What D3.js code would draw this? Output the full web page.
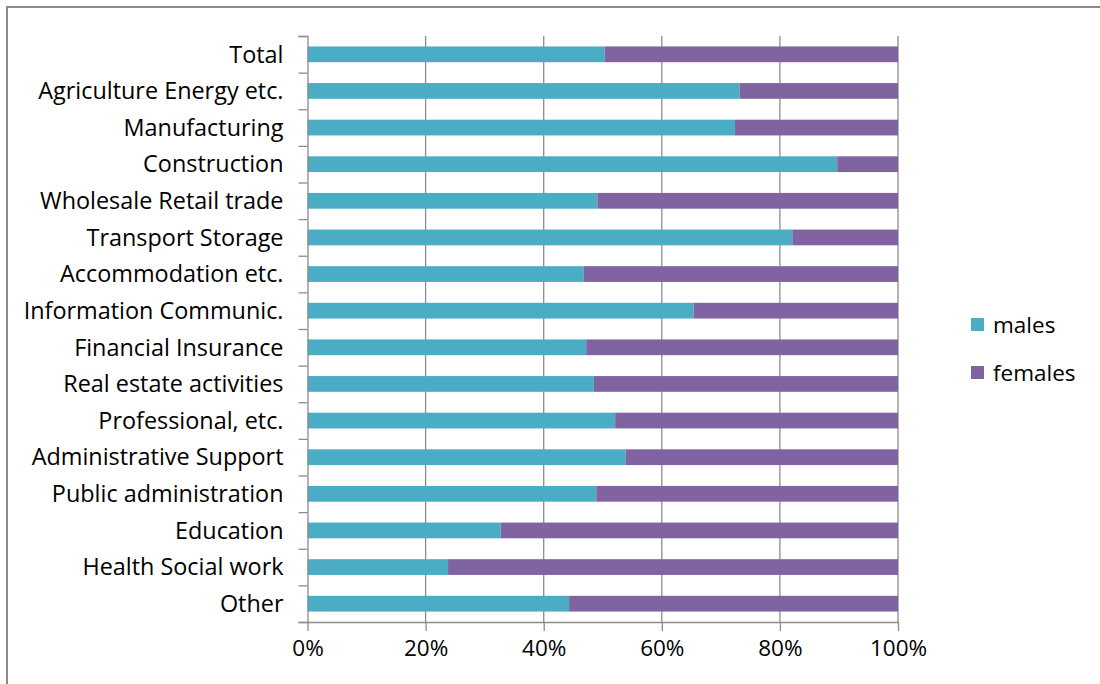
<!DOCTYPE html>
<html>
<head>
<meta charset="utf-8">
<script src="https://cdn.jsdelivr.net/npm/d3@7"></script>
<style>
  body { margin: 0; background: #fff; }
  text { font-family: "Open Sans", sans-serif; fill: #000; font-variant-ligatures: none; }
</style>
</head>
<body>
<div id="chart"></div>
<script>
// categories, top to bottom
const sectors = ["Total", "Agriculture Energy etc.", "Manufacturing", "Construction",
  "Wholesale Retail trade", "Transport Storage", "Accommodation etc.", "Information Communic.",
  "Financial Insurance", "Real estate activities", "Professional, etc.", "Administrative Support",
  "Public administration", "Education", "Health Social work", "Other"];
// share of males (fraction), females is the rest
const males = [0.503, 0.732, 0.724, 0.897, 0.491, 0.821, 0.468, 0.654,
  0.472, 0.485, 0.521, 0.539, 0.489, 0.327, 0.238, 0.443];
const females = males.map(m => 1 - m);
const seriesNames = ["males", "females"];
const seriesColors = ["#4BACC6", "#8064A2"];
const xTicks = [0, 0.2, 0.4, 0.6, 0.8, 1];

const W = 1100, H = 684;
const margin = {top: 36, right: 202, bottom: 62, left: 307.5};
const width = W - margin.left - margin.right;
const height = H - margin.top - margin.bottom;
const fontSize = "22.5px";
const labelSize = "23.4px";

const root = d3.select("#chart").append("svg")
    .attr("width", W)
    .attr("height", H);

// outer frame (only top and left visible)
root.append("path")
    .attr("d", "M7,684 V7 H1100")
    .attr("fill", "none")
    .attr("stroke", "#8a8a8a")
    .attr("stroke-width", 2);

const svg = root.append("g")
    .attr("transform", "translate(" + margin.left + "," + margin.top + ")");

const x = d3.scaleLinear().domain([0, 1]).range([0, width]);
const y = d3.scaleBand().domain(sectors).range([0, height]).paddingInner(0.57).paddingOuter(0.285);

// gridlines
svg.append("g")
    .selectAll("line")
    .data(xTicks.slice(1))
    .enter().append("line")
    .attr("x1", d => x(d)).attr("x2", d => x(d))
    .attr("y1", 0).attr("y2", height)
    .attr("stroke", "#8c8c8c")
    .attr("stroke-width", 1.3);

// stacked bars
const rows = sectors.map((s, i) => ({sector: s, males: males[i], females: females[i]}));
const stacked = d3.stack().keys(seriesNames)(rows);

svg.append("g")
    .selectAll("g")
    .data(stacked)
    .enter().append("g")
    .attr("fill", (d, i) => seriesColors[i])
    .selectAll("rect")
    .data(d => d)
    .enter().append("rect")
    .attr("x", d => x(d[0]))
    .attr("y", d => y(d.data.sector))
    .attr("width", d => x(d[1]) - x(d[0]))
    .attr("height", y.bandwidth());

// y axis
const yAxis = svg.append("g")
    .call(d3.axisLeft(d3.scaleLinear().domain([0, sectors.length]).range([0, height]))
        .ticks(sectors.length).tickSize(9).tickFormat(""));
yAxis.selectAll("line, path").attr("stroke", "#8c8c8c").attr("stroke-width", 1.3);

svg.append("g")
    .selectAll("text")
    .data(sectors)
    .enter().append("text")
    .attr("x", -24)
    .attr("y", d => y(d) + y.bandwidth() / 2)
    .attr("dy", "0.35em")
    .attr("text-anchor", "end")
    .style("font-size", labelSize)
    .text(d => d);

// x axis
const xAxis = svg.append("g")
    .attr("transform", "translate(0," + height + ")")
    .call(d3.axisBottom(x).tickValues(xTicks).tickSize(9).tickPadding(9).tickFormat(d3.format(".0%")));
xAxis.selectAll("line, path").attr("stroke", "#8c8c8c").attr("stroke-width", 1.3);
xAxis.select(".domain").attr("d", "M0,0.5H" + width);
xAxis.selectAll("text")
    .style("font-family", "'Open Sans', sans-serif")
    .style("font-size", fontSize)
    .attr("fill", "#000");

// legend
const legend = root.append("g")
    .selectAll("g")
    .data(seriesNames)
    .enter().append("g")
    .attr("transform", (d, i) => "translate(971," + (318 + i * 48) + ")");
legend.append("rect")
    .attr("width", 13).attr("height", 13)
    .attr("fill", (d, i) => seriesColors[i]);
legend.append("text")
    .attr("x", 22).attr("y", 7)
    .attr("dy", "0.35em")
    .style("font-size", fontSize)
    .text(d => d);
</script>
</body>
</html>
